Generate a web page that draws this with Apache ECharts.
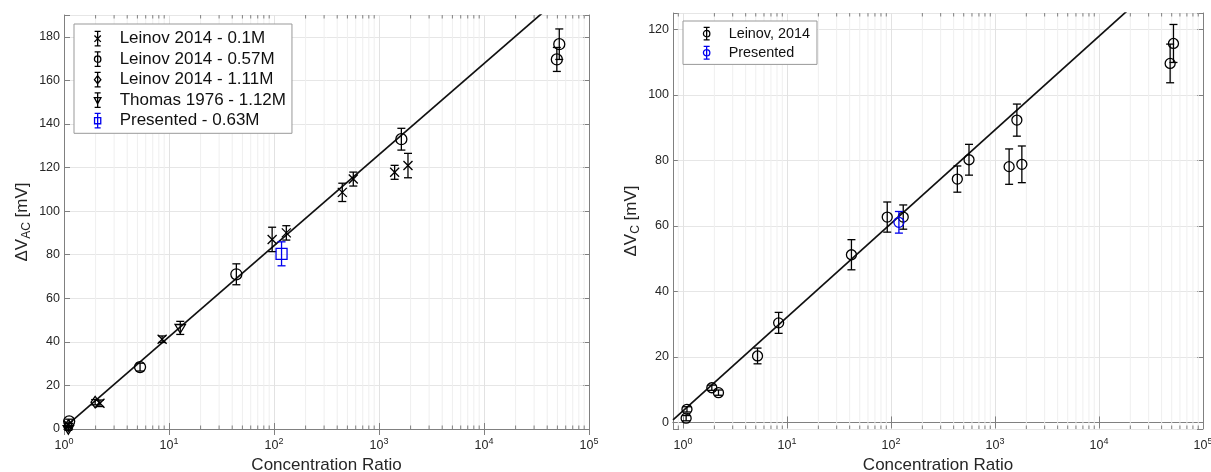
<!DOCTYPE html>
<html><head><meta charset="utf-8">
<script src="https://cdn.jsdelivr.net/npm/echarts@6/dist/echarts.min.js"></script>
<style>html,body{margin:0;padding:0;background:#fff}#c{width:1211px;height:472px}</style>
</head><body><div id="c"></div>
<script>
// ---------- Left panel data (ΔV_AC) ----------
const L01_x = [1.1, 2.2, 8.6, 96, 131, 447, 569, 1409, 1888];
const L01_y = [1.8, 11.8, 41.2, 87.0, 90.0, 108.6, 114.7, 117.8, 120.9];
const L01_e = [1.0, 1.5, 1.5, 5.6, 3.3, 4.2, 3.2, 3.2, 5.6];

const L057_x = [1.12, 5.3, 43.8, 1633, 49400, 52100];
const L057_y = [3.5, 28.4, 71.0, 133.0, 169.6, 176.6];
const L057_e = [1.0, 1.8, 4.8, 5.0, 5.5, 7.0];

const L111_x = [1.1, 1.98];
const L111_y = [1.5, 12.3];
const L111_e = [1.0, 1.2];

const T112_x = [1.1, 12.8];
const T112_y = [0.0, 46.4];
const T112_e = [0.6, 3.0];

const P063_x = [118];
const P063_y = [80.4];
const P063_e = [5.5];

const fitL_x = [1, 100000];
const fitL_y = [0.5, 209.5];

// ---------- Right panel data (ΔV_C) ----------
const R14_x = [1.09, 1.07, 1.89, 2.19, 5.2, 8.3, 41.6, 91.9, 131, 434, 562, 1622, 1366, 1811, 48300, 52000];
const R14_y = [4.0, 1.3, 10.6, 9.1, 20.3, 30.4, 51.2, 62.7, 62.7, 74.3, 80.2, 92.3, 78.1, 78.8, 109.6, 115.7];
const R14_e = [0.8, 0.8, 0.8, 0.8, 2.4, 3.2, 4.6, 4.6, 3.7, 4.0, 4.7, 4.9, 5.4, 5.6, 5.9, 5.8];

const RP_x = [119];
const RP_y = [61.1];
const RP_e = [3.3];

const fitR_x = [0.8, 100000];
const fitR_y = [0.8, 146.5];

// axis ticks
const minorMult = [2, 3, 4, 5, 6, 7, 8, 9];
const decades = [1, 10, 100, 1000, 10000];
const minorL = [];
decades.forEach(d => minorMult.forEach(m => minorL.push(m * d)));
const minorR = [0.9].concat(minorL);

const FONT = "'Liberation Sans', Arial, Helvetica, sans-serif";
const AXC = '#808080';
const TXT = '#262626';
const BLUE = '#0000ee';

function zip3(a, b, c) { return a.map((v, i) => [v, b[i], c[i]]); }
function zip2(a, b) { return a.map((v, i) => [v, b[i]]); }

function marker(shape, x, y, r, st) {
  const s = Object.assign({}, st, {fill: 'none'});
  if (shape === 'circle') return {type: 'circle', shape: {cx: x, cy: y, r: r}, style: s};
  if (shape === 'square') return {type: 'rect', shape: {x: x - r, y: y - r, width: 2 * r, height: 2 * r}, style: s};
  if (shape === 'diamond') return {type: 'polygon', shape: {points: [[x, y - r * 1.05], [x + r * 0.75, y], [x, y + r * 1.05], [x - r * 0.75, y]]}, style: s};
  if (shape === 'tri') return {type: 'polygon', shape: {points: [[x - r, y - r * 0.65], [x + r, y - r * 0.65], [x, y + r]]}, style: s};
  return {type: 'group', children: [
    {type: 'line', shape: {x1: x - r, y1: y - r, x2: x + r, y2: y + r}, style: s},
    {type: 'line', shape: {x1: x + r, y1: y - r, x2: x - r, y2: y + r}, style: s}
  ]};
}

function errRender(shape, color, r) {
  return function (params, api) {
    const x = api.value(0), y = api.value(1), e = api.value(2);
    const c = api.coord([x, y]), t = api.coord([x, y + e]), b = api.coord([x, y - e]);
    const st = {stroke: color, lineWidth: 1.3, fill: 'none'};
    const cap = 4;
    return {type: 'group', children: [
      {type: 'line', shape: {x1: c[0], y1: t[1], x2: c[0], y2: b[1]}, style: st},
      {type: 'line', shape: {x1: c[0] - cap, y1: t[1], x2: c[0] + cap, y2: t[1]}, style: st},
      {type: 'line', shape: {x1: c[0] - cap, y1: b[1], x2: c[0] + cap, y2: b[1]}, style: st},
      marker(shape, c[0], c[1], r, st)
    ]};
  };
}

function minorRender(params, api) {
  const cs = params.coordSys;
  const x = api.coord([api.value(0), api.value(1)])[0];
  const b = cs.y + cs.height, t = cs.y;
  return {type: 'group', children: [
    {type: 'line', shape: {x1: x, y1: t, x2: x, y2: b}, style: {stroke: '#efefef', lineWidth: 1}},
    {type: 'line', shape: {x1: x, y1: b, x2: x, y2: b - 3.5}, style: {stroke: AXC, lineWidth: 1}},
    {type: 'line', shape: {x1: x, y1: t, x2: x, y2: t + 3.5}, style: {stroke: AXC, lineWidth: 1}}
  ]};
}

function errSeries(name, xs, ys, es, shape, color, r, gi) {
  return {
    type: 'custom', name: name, xAxisIndex: gi * 2, yAxisIndex: gi * 2,
    data: zip3(xs, ys, es), encode: {x: 0, y: 1}, clip: false, z: 5,
    itemStyle: {color: color}, renderItem: errRender(shape, color, r), silent: true
  };
}

function icon(h, m) {
  const c = h / 2, top = 0.7, bot = h - 0.7;
  let p = 'path://M0,0 M21,' + h + ' M1,' + top + ' L7,' + top + ' M4,' + top + ' L4,' + bot + ' M1,' + bot + ' L7,' + bot;
  const r = 3.2;
  if (m === 'circle') p += ' M' + (4 + r) + ',' + c + ' A' + r + ',' + r + ' 0 1 1 ' + (4 - r) + ',' + c + ' A' + r + ',' + r + ' 0 1 1 ' + (4 + r) + ',' + c + ' Z';
  if (m === 'cross') p += ' M' + (4 - r) + ',' + (c - r) + ' L' + (4 + r) + ',' + (c + r) + ' M' + (4 + r) + ',' + (c - r) + ' L' + (4 - r) + ',' + (c + r);
  if (m === 'diamond') p += ' M4,' + (c - 4) + ' L7.2,' + c + ' L4,' + (c + 4) + ' L0.8,' + c + ' Z';
  if (m === 'tri') p += ' M0.7,' + (c - 2.6) + ' L7.3,' + (c - 2.6) + ' L4,' + (c + 3.6) + ' Z';
  if (m === 'square') p += ' M0.9,' + (c - 3.1) + ' L7.1,' + (c - 3.1) + ' L7.1,' + (c + 3.1) + ' L0.9,' + (c + 3.1) + ' Z';
  return p;
}
function legItem(name, h, m, color) {
  return {name: name, icon: icon(h, m), itemStyle: {color: 'rgba(0,0,0,0)', borderColor: color, borderWidth: 1.3}};
}

function logLabel(v) {
  const l = Math.log10(v), n = Math.round(l);
  if (Math.abs(l - n) > 1e-6) return '';
  return '10{sup|' + n + '}';
}
const xLabelStyle = {
  formatter: logLabel, color: TXT, fontSize: 12.5, fontFamily: FONT, margin: 8,
  rich: {sup: {fontSize: 9, fontFamily: FONT, color: TXT, padding: [0, 0, 8, 0]}}
};

function xAxes(gi, min) {
  return [{
    type: 'log', logBase: 10, gridIndex: gi, min: min, max: 100000, position: 'bottom',
    axisLine: {show: true, lineStyle: {color: AXC, width: 1}},
    axisTick: {show: true, inside: true, length: 6, lineStyle: {color: AXC}},
    axisLabel: xLabelStyle,
    splitLine: {show: true, lineStyle: {color: '#e2e2e2', width: 1}},
    name: 'Concentration Ratio', nameLocation: 'middle', nameGap: 27,
    nameTextStyle: {fontSize: 17, color: TXT, fontFamily: FONT}
  }, {
    type: 'log', logBase: 10, gridIndex: gi, min: min, max: 100000, position: 'top',
    axisLine: {show: true, lineStyle: {color: AXC, width: 1}},
    axisTick: {show: true, inside: true, length: 6, lineStyle: {color: AXC}},
    axisLabel: {show: false}, splitLine: {show: false}
  }];
}
function yAxes(gi, min, max, sub, tickOpt) {
  const base = Object.assign({
    type: 'value', gridIndex: gi, min: min, max: max, position: 'left',
    axisLine: {show: true, lineStyle: {color: AXC, width: 1}},
    axisTick: {show: true, inside: true, length: 6, lineStyle: {color: AXC}},
    axisLabel: {color: TXT, fontSize: 12.5, fontFamily: FONT, margin: 4,
      formatter: v => (v % 20 === 0 ? String(Math.abs(v)) : '')},
    splitLine: {show: true, lineStyle: {color: '#e6e6e6', width: 1}},
    name: '\u0394V{sub|' + sub + '} [mV]', nameLocation: 'middle', nameGap: 31,
    nameTextStyle: {fontSize: 17, color: TXT, fontFamily: FONT,
      rich: {sub: {fontSize: 12, color: TXT, fontFamily: FONT, padding: [9, 0, 0, 0]}}}
  }, tickOpt);
  const right = Object.assign({
    type: 'value', gridIndex: gi, min: min, max: max, position: 'right',
    axisLine: {show: true, lineStyle: {color: AXC, width: 1}},
    axisTick: {show: true, inside: true, length: 6, lineStyle: {color: AXC}},
    axisLabel: {show: false}, splitLine: {show: false}
  }, tickOpt);
  return [base, right];
}

const chart = echarts.init(document.getElementById('c'), null, {renderer: 'canvas'});
chart.setOption({
  animation: false,
  backgroundColor: '#fff',
  grid: [
    {left: 64, top: 15, width: 525, height: 414, outerBoundsMode: 'none', containLabel: false},
    {left: 673, top: 13, width: 530, height: 416, outerBoundsMode: 'none', containLabel: false}
  ],
  xAxis: xAxes(0, 1).concat(xAxes(1, 0.8)),
  yAxis: yAxes(0, 0, 190, 'AC', {interval: 20}).concat(yAxes(1, -2, 125, 'C', {splitNumber: 6})),
  legend: [{
    left: 74, top: 24, orient: 'vertical', padding: [6, 6, 4, 19], itemGap: 3.2,
    itemWidth: 21, itemHeight: 16, selectedMode: false,
    backgroundColor: '#fff', borderColor: '#999', borderWidth: 1,
    textStyle: {fontSize: 17, color: '#111', fontFamily: FONT, lineHeight: 16},
    data: [
      legItem('Leinov 2014 - 0.1M', 16, 'cross', '#000'),
      legItem('Leinov 2014 - 0.57M', 16, 'circle', '#000'),
      legItem('Leinov 2014 - 1.11M', 16, 'diamond', '#000'),
      legItem('Thomas 1976 - 1.12M', 16, 'tri', '#000'),
      legItem('Presented - 0.63M', 16, 'square', BLUE)
    ]
  }, {
    left: 683, top: 21, orient: 'vertical', padding: [5, 7, 4, 19], itemGap: 3.8,
    itemWidth: 21, itemHeight: 14, selectedMode: false,
    backgroundColor: '#fff', borderColor: '#999', borderWidth: 1,
    textStyle: {fontSize: 14.4, color: '#111', fontFamily: FONT, lineHeight: 14},
    data: [
      legItem('Leinov, 2014', 14, 'circle', '#000'),
      legItem('Presented', 14, 'circle', BLUE)
    ]
  }],
  series: [
    {type: 'custom', xAxisIndex: 0, yAxisIndex: 0, data: minorL.map(v => [v, 0]), encode: {x: 0, y: 1},
     renderItem: minorRender, z: 1, silent: true, clip: false},
    {type: 'custom', xAxisIndex: 2, yAxisIndex: 2, data: minorR.map(v => [v, 0]), encode: {x: 0, y: 1},
     renderItem: minorRender, z: 1, silent: true, clip: false},
    {type: 'line', xAxisIndex: 0, yAxisIndex: 0, data: zip2(fitL_x, fitL_y), showSymbol: false, symbol: 'none',
     lineStyle: {color: '#111', width: 1.7}, clip: true, z: 3, silent: true},
    {type: 'line', xAxisIndex: 2, yAxisIndex: 2, data: zip2(fitR_x, fitR_y), showSymbol: false, symbol: 'none',
     lineStyle: {color: '#111', width: 1.7}, clip: true, z: 3, silent: true},
    errSeries('Leinov 2014 - 0.1M', L01_x, L01_y, L01_e, 'cross', '#000', 4.5, 0),
    errSeries('Leinov 2014 - 0.57M', L057_x, L057_y, L057_e, 'circle', '#000', 5.5, 0),
    errSeries('Leinov 2014 - 1.11M', L111_x, L111_y, L111_e, 'diamond', '#000', 5.5, 0),
    errSeries('Thomas 1976 - 1.12M', T112_x, T112_y, T112_e, 'tri', '#000', 5.2, 0),
    errSeries('Presented - 0.63M', P063_x, P063_y, P063_e, 'square', BLUE, 5.5, 0),
    errSeries('Leinov, 2014', R14_x, R14_y, R14_e, 'circle', '#000', 5, 1),
    errSeries('Presented', RP_x, RP_y, RP_e, 'circle', BLUE, 5, 1)
  ]
});
</script>
</body></html>
